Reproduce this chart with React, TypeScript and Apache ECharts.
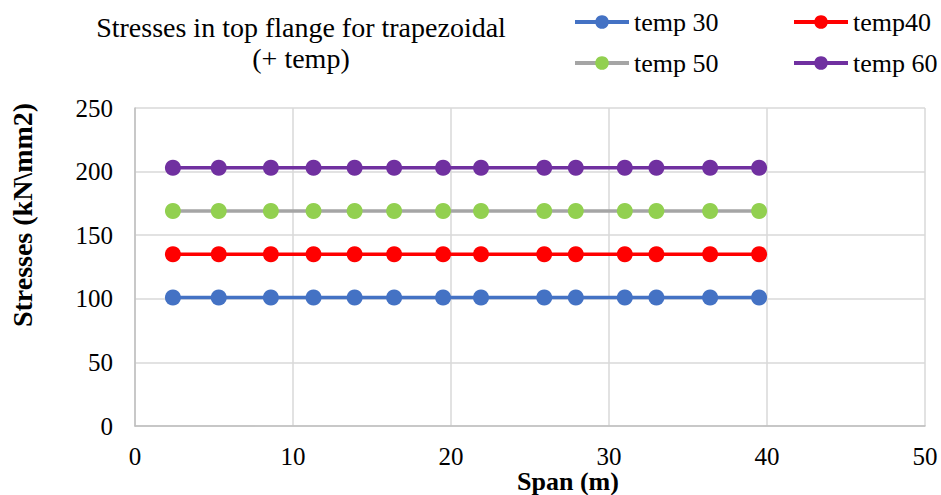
import React, { useEffect, useRef } from "react";
import * as echarts from "echarts";

const spanX = [2.4, 5.3, 8.6, 11.3, 13.9, 16.4, 19.5, 21.9, 25.9, 27.9, 31.0, 33.0, 36.4, 39.5];
const temp30 = [101, 101, 101, 101, 101, 101, 101, 101, 101, 101, 101, 101, 101, 101];
const temp40 = [135, 135, 135, 135, 135, 135, 135, 135, 135, 135, 135, 135, 135, 135];
const temp50 = [169, 169, 169, 169, 169, 169, 169, 169, 169, 169, 169, 169, 169, 169];
const temp60 = [203, 203, 203, 203, 203, 203, 203, 203, 203, 203, 203, 203, 203, 203];
const seriesNames = ["temp 30", "temp40", "temp 50", "temp 60"];

const FONT = "'Liberation Serif', 'DejaVu Serif', serif";

export default function App() {
  const ref = useRef<HTMLDivElement>(null);
  useEffect(() => {
    document.body.style.margin = "0";
    const chart = echarts.init(ref.current!, null, { renderer: "svg" });
    const mk = (name: string, vals: number[], line: string, marker: string) => ({
      name,
      type: "line",
      data: spanX.map((x, i) => [x, vals[i]]),
      symbol: "circle",
      symbolSize: 16,
      lineStyle: { color: line, width: 3.5 },
      itemStyle: { color: marker },
      z: 3,
    });
    const legendPos = [
      { left: 573, top: 9 },
      { left: 792, top: 9 },
      { left: 573, top: 50 },
      { left: 792, top: 50 },
    ];
    const legends = seriesNames.map((n, i) => ({
      data: [n],
      left: legendPos[i].left,
      top: legendPos[i].top,
      itemWidth: 54,
      itemHeight: 17,
      padding: 0,
      lineStyle: { width: 4 },
      textStyle: { fontFamily: FONT, fontSize: 26, color: "#000" },
    }));
    chart.setOption({
      animation: false,
      backgroundColor: "#fff",
      textStyle: { fontFamily: FONT },
      title: {
        text: "Stresses in top flange for trapezoidal\n(+ temp)",
        left: 296,
        top: 7,
        textAlign: "center",
        textStyle: { fontFamily: FONT, fontSize: 28, fontWeight: "normal", color: "#000", lineHeight: 31 },
      },
      legend: legends,
      grid: { left: 135, right: 16, top: 108, bottom: 69, containLabel: false, outerBoundsMode: "none" },
      xAxis: {
        type: "value",
        min: 0,
        max: 50,
        interval: 10,
        name: "Span (m)",
        nameLocation: "middle",
        nameGap: 42,
        nameMoveOverlap: false,
        nameTextStyle: {
          fontFamily: FONT,
          fontSize: 26,
          fontWeight: "bold",
          color: "#000",
          padding: [0, 0, 0, 76],
        },
        axisLine: { show: true, lineStyle: { color: "#BFBFBF", width: 1.5 } },
        axisTick: { show: false },
        axisLabel: { fontFamily: FONT, fontSize: 25, color: "#000", margin: 18 },
        splitLine: { show: true, lineStyle: { color: "#D9D9D9", width: 1.5 } },
      },
      yAxis: {
        type: "value",
        min: 0,
        max: 250,
        interval: 50,
        name: "Stresses (kN\\mm2)",
        nameLocation: "middle",
        nameGap: 99,
        nameMoveOverlap: false,
        nameTextStyle: {
          fontFamily: FONT,
          fontSize: 28,
          fontWeight: "bold",
          color: "#000",
          padding: [0, 0, 0, 104],
        },
        axisLine: { show: true, lineStyle: { color: "#BFBFBF", width: 1.5 } },
        axisTick: { show: false },
        axisLabel: { fontFamily: FONT, fontSize: 25, color: "#000", margin: 22 },
        splitLine: { show: true, lineStyle: { color: "#D9D9D9", width: 1.5 } },
      },
      series: [
        mk(seriesNames[0], temp30, "#4472C4", "#4472C4"),
        mk(seriesNames[1], temp40, "#FF0000", "#FF0000"),
        mk(seriesNames[2], temp50, "#A5A5A5", "#92D050"),
        mk(seriesNames[3], temp60, "#7030A0", "#7030A0"),
      ],
    });
    return () => chart.dispose();
  }, []);
  return <div ref={ref} style={{ width: 941, height: 495 }} />;
}
